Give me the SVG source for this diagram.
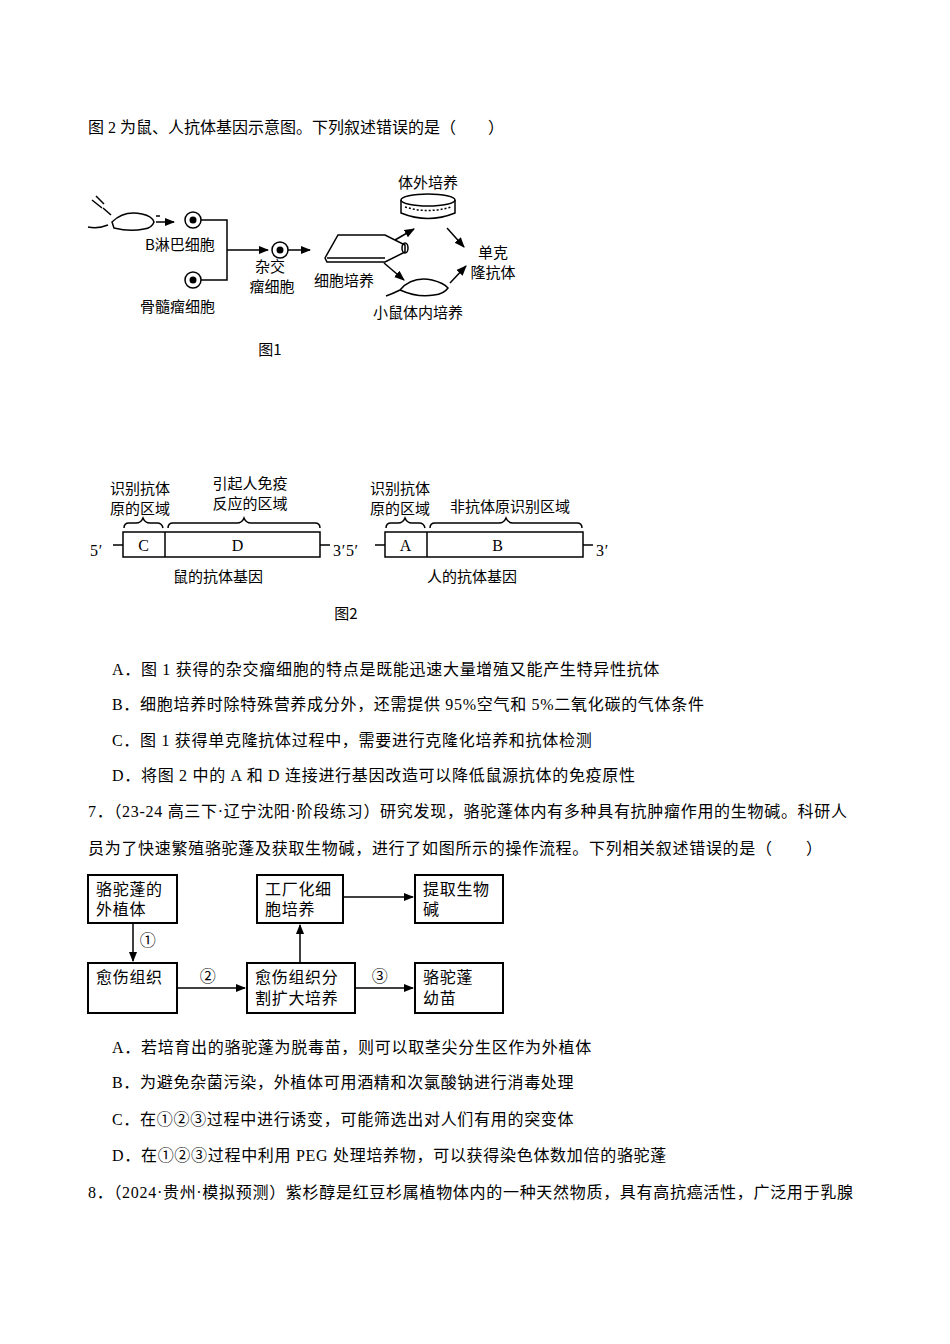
<svg xmlns="http://www.w3.org/2000/svg" width="950" height="1344" viewBox="0 0 950 1344">
<defs>
<style>
text{font-family:"Liberation Serif","Noto Sans CJK SC",serif;fill:#000}
.b{font-size:16px;letter-spacing:0.7px}
.s{font-size:15px;font-family:"Noto Sans CJK SC",sans-serif}
.ln{fill:none;stroke:#000;stroke-width:1.5}
.bx{fill:#fff;stroke:#000;stroke-width:1.5}
.bx2{fill:#fff;stroke:#000;stroke-width:2}
</style>
<marker id="ar" viewBox="0 0 10 10" refX="9" refY="5" markerWidth="7" markerHeight="7" orient="auto"><path d="M0,1 L10,5 L0,9 z" fill="#000"/></marker>
</defs>
<rect width="950" height="1344" fill="#fff"/>
<text class="b" x="88" y="133" style="letter-spacing:0">图 2 为鼠、人抗体基因示意图。下列叙述错误的是（　　）</text>

<g id="fig1">
<g id="mouse1" class="ln">
<path d="M92,200 l10,8 M96,196 l8,8 M103,208 l8,7"/>
<path d="M112,222 q12,-12 30,-8 q10,2 12,8 q-2,6 -10,7 q-14,3 -30,-1 z M108,225 q-10,4 -20,2"/>
</g>
<path class="ln" d="M156,216 h4 M156,222 h18" marker-end="url(#ar)"/>
<g id="bcell"><circle cx="193" cy="220" r="8" class="bx"/><circle cx="193" cy="220" r="3.5"/></g>
<g id="myeloma"><circle cx="193" cy="280" r="8" class="bx"/><circle cx="193" cy="280" r="3.5"/></g>
<g id="hybrid"><circle cx="280" cy="250" r="8" class="bx"/><circle cx="280" cy="250" r="3.5"/></g>
<g id="conn1">
<path class="ln" d="M201,220 H227 V280 H201 M227,250 H268" marker-end="url(#ar)"/>
<path class="ln" d="M288,250 H310" marker-end="url(#ar)"/>
<path class="ln" d="M395,240 L414,229" marker-end="url(#ar)"/>
<path class="ln" d="M447,228 L464,247" marker-end="url(#ar)"/>
<path class="ln" d="M384,263 L404,280" marker-end="url(#ar)"/>
<path class="ln" d="M450,283 L466,266" marker-end="url(#ar)"/>
</g>
<g id="flask" class="ln"><path d="M325,258 L338,235 L385,235 L405,245 V252 L385,262 H327 Z M327,258 H385"/><ellipse cx="405" cy="248" rx="3" ry="5"/></g>
<g id="dish" class="ln"><ellipse cx="428" cy="200" rx="27" ry="6"/><path d="M401,200 V213 Q428,224 455,213 V200"/><path d="M405,207 Q428,214 451,207" stroke-dasharray="2 2"/></g>
<g id="mouse2" class="ln"><path d="M400,290 q12,-14 32,-10 q12,3 16,8 q-4,6 -14,7 q-16,3 -34,-5 z M400,290 q-8,4 -14,6"/></g>
<text class="s" x="145" y="250">B淋巴细胞</text>
<text class="s" x="140" y="312">骨髓瘤细胞</text>
<text class="s" x="270" y="272" text-anchor="middle">杂交</text>
<text class="s" x="272" y="292" text-anchor="middle">瘤细胞</text>
<text class="s" x="344" y="286" text-anchor="middle">细胞培养</text>
<text class="s" x="428" y="188" text-anchor="middle">体外培养</text>
<text class="s" x="493" y="258" text-anchor="middle">单克</text>
<text class="s" x="493" y="278" text-anchor="middle">隆抗体</text>
<text class="s" x="418" y="318" text-anchor="middle">小鼠体内培养</text>
<text class="s" x="270" y="355" text-anchor="middle">图1</text>
</g>

<g id="fig2">
<g id="mousegene"><rect x="123" y="532" width="197" height="25" class="bx"/><path class="ln" d="M165,532 V557 M113,545 H123 M320,545 H330"/>
<text class="b" x="144" y="551" text-anchor="middle">C</text><text class="b" x="238" y="551" text-anchor="middle">D</text></g>
<g id="humangene"><rect x="385" y="532" width="198" height="25" class="bx"/><path class="ln" d="M427,532 V557 M375,545 H385 M583,545 H593"/>
<text class="b" x="406" y="551" text-anchor="middle">A</text><text class="b" x="498" y="551" text-anchor="middle">B</text></g>
<g class="ln" stroke-width="1.2">
<path d="M124,528 q0,-5 5,-5 h7 q5,0 7,-5 q2,5 7,5 h7 q5,0 6,5"/>
<path d="M168,528 q0,-5 5,-5 h64 q5,0 7,-5 q2,5 7,5 h64 q5,0 5,5"/>
<path d="M386,528 q0,-5 5,-5 h7 q5,0 7,-5 q2,5 7,5 h7 q5,0 6,5"/>
<path d="M430,528 q0,-5 5,-5 h64 q5,0 7,-5 q2,5 7,5 h64 q5,0 5,5"/>
</g>
<text class="b" x="90" y="556">5′</text><text class="b" x="333" y="556">3′5′</text><text class="b" x="596" y="556">3′</text>
<text class="s" x="140" y="494" text-anchor="middle">识别抗体</text>
<text class="s" x="140" y="514" text-anchor="middle">原的区域</text>
<text class="s" x="250" y="489" text-anchor="middle">引起人免疫</text>
<text class="s" x="250" y="509" text-anchor="middle">反应的区域</text>
<text class="s" x="400" y="494" text-anchor="middle">识别抗体</text>
<text class="s" x="400" y="514" text-anchor="middle">原的区域</text>
<text class="s" x="510" y="512" text-anchor="middle">非抗体原识别区域</text>
<text class="s" x="218" y="582" text-anchor="middle">鼠的抗体基因</text>
<text class="s" x="472" y="582" text-anchor="middle">人的抗体基因</text>
<text class="s" x="346" y="619" text-anchor="middle">图2</text>
</g>

<text class="b" x="112" y="675">A．图 1 获得的杂交瘤细胞的特点是既能迅速大量增殖又能产生特异性抗体</text>
<text class="b" x="112" y="710">B．细胞培养时除特殊营养成分外，还需提供 95%空气和 5%二氧化碳的气体条件</text>
<text class="b" x="112" y="746">C．图 1 获得单克隆抗体过程中，需要进行克隆化培养和抗体检测</text>
<text class="b" x="112" y="781">D．将图 2 中的 A 和 D 连接进行基因改造可以降低鼠源抗体的免疫原性</text>
<text class="b" x="88" y="817">7．（23-24 高三下·辽宁沈阳·阶段练习）研究发现，骆驼蓬体内有多种具有抗肿瘤作用的生物碱。科研人</text>
<text class="b" x="88" y="854">员为了快速繁殖骆驼蓬及获取生物碱，进行了如图所示的操作流程。下列相关叙述错误的是（　　）</text>

<g id="fig3">
<g id="n1"><rect x="88" y="875" width="89" height="48" class="bx2"/><text class="b" x="96" y="895">骆驼蓬的</text><text class="b" x="96" y="915">外植体</text></g>
<g id="n2"><rect x="88" y="963" width="89" height="50" class="bx2"/><text class="b" x="96" y="983">愈伤组织</text></g>
<g id="n3"><rect x="247" y="963" width="108" height="50" class="bx2"/><text class="b" x="255" y="983">愈伤组织分</text><text class="b" x="255" y="1004">割扩大培养</text></g>
<g id="n4"><rect x="257" y="875" width="86" height="48" class="bx2"/><text class="b" x="265" y="895">工厂化细</text><text class="b" x="265" y="915">胞培养</text></g>
<g id="n5"><rect x="415" y="875" width="88" height="48" class="bx2"/><text class="b" x="423" y="895">提取生物</text><text class="b" x="423" y="915">碱</text></g>
<g id="n6"><rect x="415" y="963" width="88" height="50" class="bx2"/><text class="b" x="423" y="983">骆驼蓬</text><text class="b" x="423" y="1004">幼苗</text></g>
<g id="conn3">
<path class="ln" stroke-width="2" d="M133,923 V961" marker-end="url(#ar)"/>
<path class="ln" stroke-width="2" d="M177,988 H245" marker-end="url(#ar)"/>
<path class="ln" stroke-width="2" d="M355,988 H413" marker-end="url(#ar)"/>
<path class="ln" stroke-width="2" d="M300,963 V925" marker-end="url(#ar)"/>
<path class="ln" stroke-width="2" d="M343,897 H413" marker-end="url(#ar)"/>
</g>
<text class="b" x="148" y="946" text-anchor="middle">①</text>
<text class="b" x="208" y="982" text-anchor="middle">②</text>
<text class="b" x="380" y="982" text-anchor="middle">③</text>
</g>

<text class="b" x="112" y="1053">A．若培育出的骆驼蓬为脱毒苗，则可以取茎尖分生区作为外植体</text>
<text class="b" x="112" y="1088">B．为避免杂菌污染，外植体可用酒精和次氯酸钠进行消毒处理</text>
<text class="b" x="112" y="1125">C．在①②③过程中进行诱变，可能筛选出对人们有用的突变体</text>
<text class="b" x="112" y="1161">D．在①②③过程中利用 PEG 处理培养物，可以获得染色体数加倍的骆驼蓬</text>
<text class="b" x="88" y="1198">8．（2024·贵州·模拟预测）紫杉醇是红豆杉属植物体内的一种天然物质，具有高抗癌活性，广泛用于乳腺</text>
</svg>
